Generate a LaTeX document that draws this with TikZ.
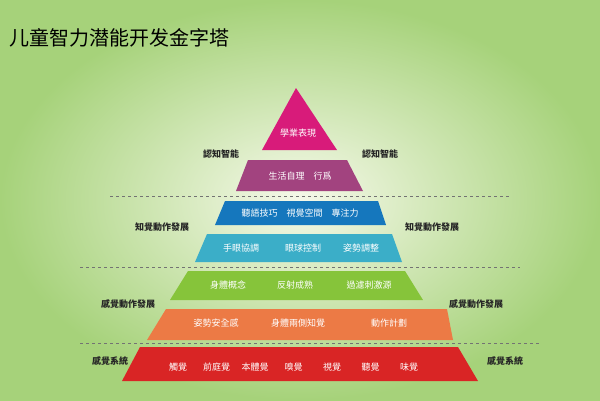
\documentclass[tikz,border=0pt]{standalone}
\usepackage{fontspec}
\setmainfont{Noto Sans CJK TC}
\newfontfamily\scfont{Noto Sans CJK SC}
\usetikzlibrary{positioning}
\definecolor{tier1}{HTML}{D81B7A}
\definecolor{tier2}{HTML}{A2437F}
\definecolor{tier3}{HTML}{1577BD}
\definecolor{tier4}{HTML}{3BAEC8}
\definecolor{tier5}{HTML}{86C43A}
\definecolor{tier6}{HTML}{EC7A45}
\definecolor{tier7}{HTML}{D92525}
\definecolor{bgedge}{HTML}{A6D27A}
\definecolor{bgmid}{HTML}{F6F9EA}
\tikzset{
  inner/.style = {text = white, font = \fontsize{9}{10}\selectfont},
  side/.style = {text = black!85, font = \fontsize{9}{11}\selectfont\bfseries},
  sep/.style = {dashed, draw = black!55, line width = 0.5pt}
}
\begin{document}
\begin{tikzpicture}[x = 1pt, y = -1pt]
      \useasboundingbox (0, 0) rectangle (600, 400);
      \shade [inner color = bgmid, outer color = bgedge] (0, 0) rectangle (600, 400);
      \node [anchor = west, font = \fontsize{20}{24}\selectfont\scfont] (title) at (6, 38) {儿童智力潜能开发金字塔};
      % tiers
      \fill [tier1] (296, 88) -- (337, 150) -- (262, 150) -- cycle;
      \fill [tier2] (248, 160) -- (347, 160) -- (363, 191) -- (236, 191) -- cycle;
      \fill [tier3] (225, 201) -- (378, 201) -- (386, 225) -- (215, 225) -- cycle;
      \fill [tier4] (207, 234) -- (392, 234) -- (402, 262) -- (195, 262) -- cycle;
      \fill [tier5] (188, 271) -- (405, 271) -- (423, 300) -- (170, 300) -- cycle;
      \fill [tier6] (166, 309) -- (447, 309) -- (453, 340) -- (147, 340) -- cycle;
      \fill [tier7] (140, 347) -- (458, 347) -- (478, 381) -- (122, 381) -- cycle;
      % dashed separators
      \draw [sep] (110, 196) -- (510, 196);
      \draw [sep] (80, 267) -- (520, 267);
      \draw [sep] (80, 343) -- (540, 343);
      % tier texts
      \node [inner] (t1) at (298, 133) {學業表現};
      \node [inner] (t2) at (300, 176) {生活自理\quad 行爲};
      \node [inner] (t3) at (300, 213) {聽語技巧\quad 視覺空間\quad 專注力};
      \node [inner] (t4-a) at (241, 248) {手眼協調};
      \node [inner] (t4-b) at (303, 248) {眼球控制};
      \node [inner] (t4-c) at (361, 248) {姿勢調整};
      \node [inner] (t5-a) at (228, 285) {身體概念};
      \node [inner] (t5-b) at (295, 285) {反射成熟};
      \node [inner] (t5-c) at (369, 285) {過濾刺激源};
      \node [inner] (t6-a) at (216, 323) {姿勢安全感};
      \node [inner] (t6-b) at (298, 323) {身體兩側知覺};
      \node [inner] (t6-c) at (389, 323) {動作計劃};
      \foreach \name [count = \i] in {觸覺, 前庭覺, 本體覺, 嗅覺, 視覺, 聽覺, 味覺}
        \node [inner] (t7-\i) at (178 + 38.5 * \i - 38.5, 367) {\name};
      % side labels
      \node [side] (l1) at (221, 154) {認知智能};
      \node [side] (r1) at (380, 154) {認知智能};
      \node [side] (l2) at (162, 227) {知覺動作發展};
      \node [side] (r2) at (432, 227) {知覺動作發展};
      \node [side] (l3) at (128, 304) {感覺動作發展};
      \node [side] (r3) at (476, 304) {感覺動作發展};
      \node [side] (l4) at (110, 361) {感覺系統};
      \node [side] (r4) at (505, 361) {感覺系統};
    \end{tikzpicture}
\end{document}
